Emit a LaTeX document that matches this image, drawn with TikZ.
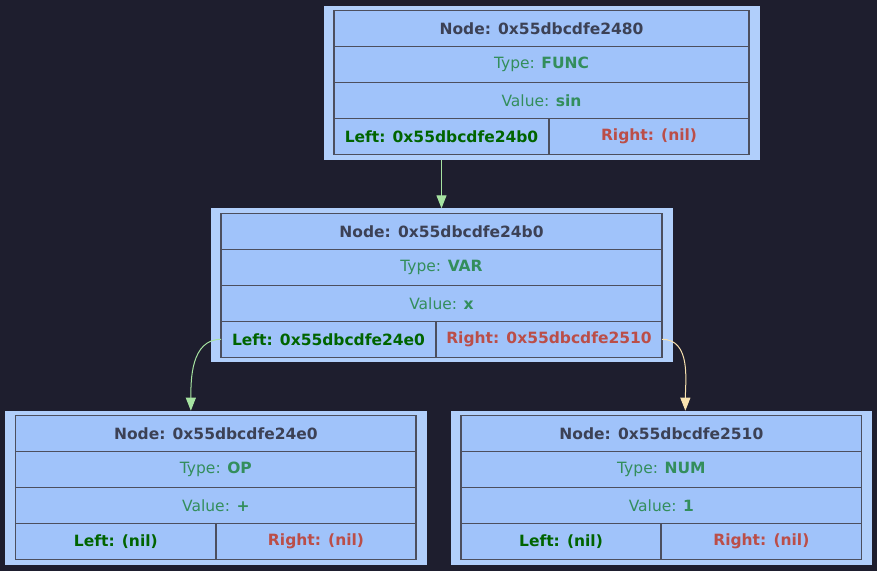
\documentclass[tikz,border=0pt]{standalone}
\usepackage{fontspec}
\setmainfont{DejaVu Sans}
\usetikzlibrary{positioning,fit,backgrounds,arrows.meta}

\definecolor{bgdark}{HTML}{1E1E2E}
\definecolor{cellblue}{HTML}{A0C3FA}
\definecolor{boxblue}{HTML}{B1CFFB}
\definecolor{cellline}{HTML}{4C4F5E}
\definecolor{titlegray}{HTML}{3C4155}
\definecolor{typegreen}{HTML}{338E5C}
\definecolor{leftgreen}{HTML}{006400}
\definecolor{rightred}{HTML}{BB4E48}
\definecolor{edgegreen}{HTML}{A6E3A1}
\definecolor{edgeyellow}{HTML}{F9E2AF}

\tikzset{
  cell/.style={draw=cellline, line width=1.2pt, fill=cellblue, minimum height=36pt,
    inner sep=0pt, outer sep=0pt, font=\fontsize{15.5}{18}\selectfont},
  recbox/.style={fill=boxblue, inner xsep=10.5pt, inner ysep=5pt, outer sep=0pt},
  link/.style={line width=1pt, -{Triangle[length=13pt,width=10pt]}},
}

% one record: name, position, width, left width, address, type, value, left, right
\newcommand{\record}[9]{%
  \node[cell, minimum width=#3pt, anchor=north west] (#1-title) at #2
    {\bfseries\color{titlegray}Node: #5};
  \node[cell, minimum width=#3pt, below=0pt of #1-title.south west, anchor=north west] (#1-type)
    {\color{typegreen}Type: \bfseries #6};
  \node[cell, minimum width=#3pt, below=0pt of #1-type.south west, anchor=north west] (#1-value)
    {\color{typegreen}Value: \bfseries #7};
  \node[cell, minimum width=#4pt, below=0pt of #1-value.south west, anchor=north west] (#1-left)
    {\bfseries\color{leftgreen}Left: #8};
  \node[cell, minimum width={#3pt-#4pt}, anchor=north west] (#1-right) at (#1-left.north east)
    {\bfseries\color{rightred}Right: #9};
  \begin{scope}[on background layer]
    \node[recbox, fit=(#1-title)(#1-right)] (#1-box) {};
  \end{scope}
}

\begin{document}
\begin{tikzpicture}[x=1pt, y=-1pt]
  \begin{scope}[on background layer]
    \fill[bgdark] (0,0) rectangle (877,571);
  \end{scope}
  \useasboundingbox (0,0) rectangle (877,571);

  \record{top}{(334,10.7)}{415}{215}{0x55dbcdfe2480}{FUNC}{sin}{0x55dbcdfe24b0}{(nil)}
  \record{mid}{(221,213.3)}{441}{215}{0x55dbcdfe24b0}{VAR}{x}{0x55dbcdfe24e0}{0x55dbcdfe2510}
  \record{lft}{(15.7,415.7)}{400.3}{200.3}{0x55dbcdfe24e0}{OP}{+}{(nil)}{(nil)}
  \record{rgt}{(461,415.7)}{400.7}{200}{0x55dbcdfe2510}{NUM}{1}{(nil)}{(nil)}

  \coordinate (lft-in) at ([xshift=-25pt]lft-box.north);
  \coordinate (rgt-in) at ([xshift=24pt]rgt-box.north);

  \draw[link, edgegreen] (top-left.south |- top-box.south) -- (mid-box.north);
  \draw[link, edgegreen] (mid-left.west) to[out=180, in=90] (lft-in);
  \draw[link, edgeyellow] (mid-right.east) to[out=0, in=90] (rgt-in);
\end{tikzpicture}
\end{document}
